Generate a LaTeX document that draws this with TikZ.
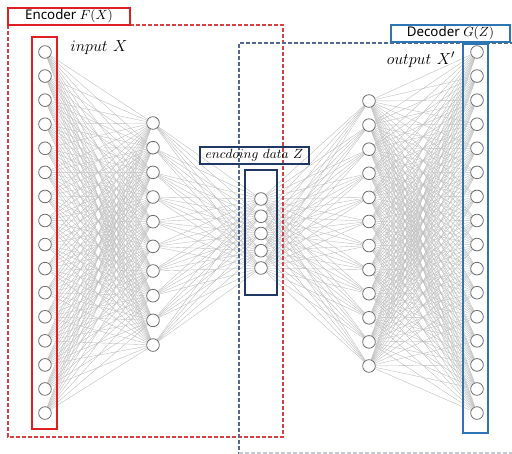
\documentclass[tikz,border=0pt]{standalone}
\usepackage{fontspec}
\usepackage{amsmath}
\newfontfamily\labelfont{Noto Sans}
\usetikzlibrary{positioning,backgrounds}

\definecolor{encred}{RGB}{222,32,36}
\definecolor{encdash}{RGB}{214,64,64}
\definecolor{decblue}{RGB}{46,117,182}
\definecolor{decdash}{RGB}{84,104,146}
\definecolor{zblue}{RGB}{31,56,100}

\begin{document}
\begin{tikzpicture}[x=0.75pt,y=-0.75pt,semithick]
\tikzstyle{neuron}=[circle, draw=gray!85!black, fill=white, line width=0.6pt,
 minimum size=9.5pt, inner sep=0pt]
\tikzstyle{synapse}=[draw=gray!50, line width=0.3pt]
\tikzstyle{tag}=[draw, line width=0.9pt, minimum height=12.75pt, inner sep=0pt,
 font=\labelfont\fontsize{10}{12}\selectfont]
\tikzstyle{frame}=[line width=0.8pt, dash pattern=on 3pt off 1.5pt]

\useasboundingbox (0,0) rectangle (512,454);

%layers
\foreach \i in {0,...,15} \node[neuron] (I\i) at (45,{52+24.07*\i}) {};
\foreach \i in {0,...,9} \node[neuron] (H\i) at (153,{123+24.67*\i}) {};
\foreach \i in {0,...,4} \node[neuron] (Z\i) at (261,{199+17.25*\i}) {};
\foreach \i in {0,...,11} \node[neuron] (D\i) at (369,{101+24.09*\i}) {};
\foreach \i in {0,...,15} \node[neuron] (O\i) at (477,{52+24.07*\i}) {};

%weights
\begin{scope}[on background layer]
\foreach \i in {0,...,15} \foreach \j in {0,...,9} \draw[synapse] (I\i) -- (H\j);
\foreach \i in {0,...,9} \foreach \j in {0,...,4} \draw[synapse] (H\i) -- (Z\j);
\foreach \i in {0,...,4} \foreach \j in {0,...,11} \draw[synapse] (Z\i) -- (D\j);
\foreach \i in {0,...,11} \foreach \j in {0,...,15} \draw[synapse] (D\i) -- (O\j);
\end{scope}

%encoder
\draw[frame, encdash] (8,25) rectangle (283,437);
\draw[encred, line width=0.9pt] (32,37) rectangle (57,429);
\node[tag, draw=encred, minimum width=91.5pt] (enc) at (69,16.5) {Encoder $F(X)$};
\node[font=\fontsize{13}{15}\selectfont] (inp) at (99,48) {$input~X$};

%decoder
\draw[frame, decdash] (520,43) -| (239,454);
\draw[frame, decdash!35] (239,453) -- (520,453);
\draw[decblue, line width=0.9pt] (463,44) rectangle (488,433);
\node[tag, draw=decblue, minimum width=89.25pt] (dec) at (450.5,33.5) {Decoder $G(Z)$};
\node[font=\fontsize{13}{15}\selectfont] (outp) at (421,60) {$output~X'$};

%code
\draw[zblue, line width=0.9pt] (245,170) rectangle (277,295);
\node[tag, draw=zblue, minimum width=81.75pt, font=\fontsize{10}{12}\selectfont] (code) at (254.5,155.5) {$encdoing~data~Z$};

\end{tikzpicture}
\end{document}
